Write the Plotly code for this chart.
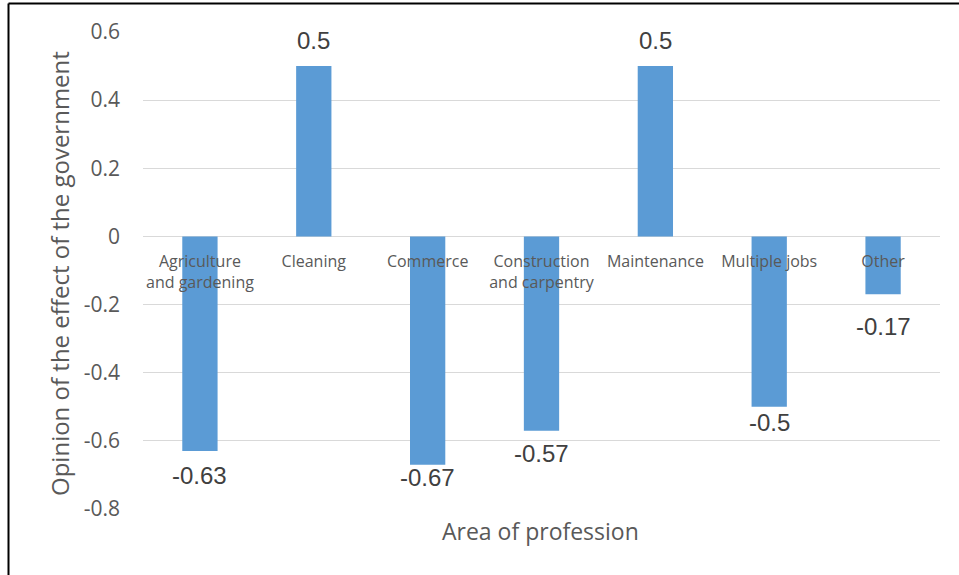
import plotly.graph_objects as go

categories = ["Agriculture<br>and gardening", "Cleaning", "Commerce",
              "Construction<br>and carpentry", "Maintenance", "Multiple jobs", "Other"]
values = [-0.63, 0.5, -0.67, -0.57, 0.5, -0.5, -0.17]
labels = ["-0.63", "0.5", "-0.67", "-0.57", "0.5", "-0.5", "-0.17"]
y_ticks = [-0.8, -0.6, -0.4, -0.2, 0, 0.2, 0.4, 0.6]
y_ticktext = ["-0.8", "-0.6", "-0.4", "-0.2", "0", "0.2", "0.4", "0.6"]

# styling: per-label pixel offsets (labels were hand-placed in the original)
label_shift = [-9, 10, 3, -7, 10, 0, -17]

W, H = 959, 575
L, R, T, B = 143, 19, 32, 66
pw, ph = W - L - R, H - T - B
ymin, ymax = -0.8, 0.6
zero_pos = (0 - ymin) / (ymax - ymin)

def px_x(p):
    return (p - L) / pw

def px_y(p):
    return (H - B - p) / ph

fig = go.Figure()
fig.add_trace(go.Bar(
    x=categories, y=values,
    marker=dict(color="#5B9BD5", line=dict(color="#5B9BD5", width=0)),
    width=0.31,
))

annotations = []
for c, v, t, s in zip(categories, values, labels, label_shift):
    annotations.append(dict(
        x=c, y=v, xref="x", yref="y", text=t, showarrow=False,
        yanchor="bottom" if v >= 0 else "top",
        yshift=s,
        font=dict(family="Liberation Sans, Arial", size=24, color="#404040"),
    ))

annotations.append(dict(
    x=px_x(540), y=px_y(531), xref="paper", yref="paper", text="Area of profession",
    showarrow=False, xanchor="center", yanchor="middle",
    font=dict(family="Open Sans", size=23, color="#595959"),
))
annotations.append(dict(
    x=px_x(59), y=px_y(274), xref="paper", yref="paper",
    text="Opinion of the effect of the government", textangle=-90,
    showarrow=False, xanchor="center", yanchor="middle",
    font=dict(family="Open Sans", size=24, color="#595959"),
))

shapes = [
    dict(type="line", xref="paper", yref="paper", x0=px_x(8.5), x1=px_x(8.5),
         y0=px_y(3.5), y1=px_y(600), line=dict(color="black", width=2)),
    dict(type="line", xref="paper", yref="paper", x0=px_x(8.5), x1=px_x(980),
         y0=px_y(3.5), y1=px_y(3.5), line=dict(color="black", width=2)),
]

fig.update_layout(
    width=W, height=H,
    margin=dict(l=L, r=R, t=T, b=B, pad=0),
    paper_bgcolor="white", plot_bgcolor="white",
    showlegend=False,
    bargap=0.69,
    annotations=annotations,
    shapes=shapes,
    xaxis=dict(
        anchor="free", position=zero_pos, showgrid=False, showline=False,
        zeroline=False, ticks="", ticklabelstandoff=14,
        tickfont=dict(family="Open Sans", size=16, color="#595959"),
        layer="above traces",
    ),
    yaxis=dict(
        range=[ymin, ymax], tickvals=y_ticks, ticktext=y_ticktext,
        showgrid=True, gridcolor="#D9D9D9", gridwidth=1.3,
        zeroline=True, zerolinecolor="#D9D9D9", zerolinewidth=1.3,
        showline=False, ticks="", ticklabelstandoff=22,
        tickfont=dict(family="Open Sans", size=21, color="#595959"),
    ),
)

fig.write_html("out.html")
